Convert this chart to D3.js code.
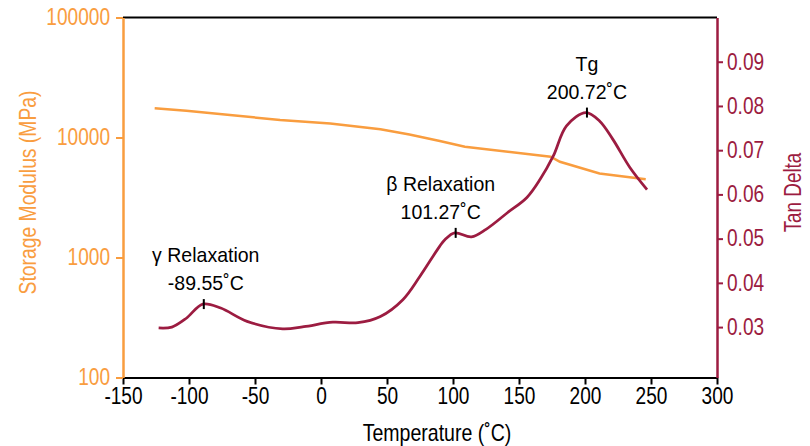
<!DOCTYPE html>
<html>
<head>
<meta charset="utf-8">
<script src="https://cdn.jsdelivr.net/npm/d3@7"></script>
<style>
  body { margin: 0; background: #fff; }
  svg text { font-family: "Liberation Sans", Arial, sans-serif; }
</style>
</head>
<body>
<svg id="chart" width="810" height="446"></svg>
<script>
// temperature ticks
var tempTicks = [-150, -100, -50, 0, 50, 100, 150, 200, 250, 300];
var modulusTicks = [100, 1000, 10000, 100000];
var tanTicks = [0.03, 0.04, 0.05, 0.06, 0.07, 0.08, 0.09];

// storage modulus (MPa) vs temperature
var modTemp = [-126, -102, -69, -31, 7, 45, 67, 90, 109, 174, 181, 211, 246];
var modValue = [17500, 16700, 15400, 14000, 13100, 11700, 10600, 9350, 8380, 6920, 6280, 5010, 4490];

// tan delta vs temperature
var tanTemp = [-123, -113, -102, -89.55, -76, -56, -29, -13, 9, 28, 45, 62, 75, 90, 94, 101.27, 114, 125, 141, 156, 166, 176, 186, 200.72, 211, 221, 234, 247];
var tanValue = [0.0298, 0.0300, 0.0320, 0.0352, 0.0343, 0.0313, 0.0296, 0.0301, 0.0311, 0.0310, 0.0324, 0.0362, 0.0415, 0.0483, 0.0498, 0.0513, 0.0504, 0.0521, 0.0558, 0.0593, 0.0634, 0.0687, 0.0755, 0.0785, 0.0766, 0.0725, 0.0661, 0.0611];

// annotated peaks
var peakTemp = [-89.55, 101.27, 200.72];
var peakLine1 = ["γ Relaxation", "β Relaxation", "Tg"];
var peakLine2 = ["-89.55˚C", "101.27˚C", "200.72˚C"];
var labelDx = [3, -14, 1]; // labels are not all centred on their peak

var orange = "#F99D3F", crimson = "#9C1C41";

var svg = d3.select("#chart"),
  margin = {top: 17.5, right: 93, bottom: 68.5, left: 123},
  width = 810 - margin.left - margin.right,
  height = 446 - margin.top - margin.bottom;

var g = svg.append("g")
  .attr("transform", "translate(" + margin.left + "," + margin.top + ")");

var x = d3.scaleLinear().domain([-150, 300]).range([0, width]);
var yMod = d3.scaleLog().domain([100, 100000]).range([height, 0]);
var yTan = d3.scaleLinear().domain([0.0186, 0.1]).range([height, 0]);

// squeeze text horizontally (no condensed face installed), keeping its anchor
function narrow(sel, k) {
  sel.each(function() {
    var t = d3.select(this);
    var xv = +t.attr("x") || 0;
    var tr = t.attr("transform") || "";
    t.attr("x", xv / k).attr("transform", tr + " scale(" + k + ",1)");
  });
}

// top border
g.append("line")
  .attr("x1", 0).attr("x2", width).attr("y1", 0).attr("y2", 0)
  .attr("stroke", "#000").attr("stroke-width", 2);

// x axis
var xAxis = g.append("g")
  .attr("transform", "translate(0," + height + ")")
  .call(d3.axisBottom(x).tickValues(tempTicks).tickFormat(function(d) { return String(d); })
    .tickSize(7).tickSizeOuter(0).tickPadding(3));
xAxis.select(".domain").attr("stroke", "#000").attr("stroke-width", 2);
xAxis.selectAll(".tick line").attr("stroke", "#000").attr("stroke-width", 2);
xAxis.selectAll("text").attr("font-size", 23).attr("fill", "#000").call(narrow, 0.83);

// left axis
var lAxis = g.append("g")
  .call(d3.axisLeft(yMod).tickValues(modulusTicks).tickFormat(function(d) { return String(d); })
    .tickSize(7).tickSizeOuter(0).tickPadding(6));
lAxis.select(".domain").attr("stroke", orange).attr("stroke-width", 2.5);
lAxis.selectAll(".tick line").attr("stroke", orange).attr("stroke-width", 2);
lAxis.selectAll("text").attr("font-size", 23).attr("fill", orange).call(narrow, 0.83);

// right axis
var rAxis = g.append("g")
  .attr("transform", "translate(" + width + ",0)")
  .call(d3.axisRight(yTan).tickValues(tanTicks).tickFormat(d3.format(".2f"))
    .tickSize(6).tickSizeOuter(0).tickPadding(4));
rAxis.select(".domain").attr("stroke", crimson).attr("stroke-width", 2.5);
rAxis.selectAll(".tick line").attr("stroke", crimson).attr("stroke-width", 2);
rAxis.selectAll("text").attr("font-size", 23).attr("fill", crimson).call(narrow, 0.83);

// axis titles
g.append("text")
  .attr("x", 314).attr("y", height + 64)
  .attr("text-anchor", "middle").attr("font-size", 23).attr("fill", "#000")
  .text("Temperature (˚C)")
  .call(narrow, 0.85);

g.append("text")
  .attr("transform", "translate(" + (-95) + "," + (height / 2 - 5) + ") rotate(-90)")
  .attr("text-anchor", "middle").attr("dy", "0.35em").attr("font-size", 23).attr("fill", orange)
  .text("Storage Modulus (MPa)")
  .call(narrow, 0.84);

g.append("text")
  .attr("transform", "translate(" + (width + 76) + "," + (height / 2 - 5) + ") rotate(-90)")
  .attr("text-anchor", "middle").attr("dy", "0.35em").attr("font-size", 23).attr("fill", crimson)
  .text("Tan Delta")
  .call(narrow, 0.82);

// storage modulus line
var modLine = d3.line()
  .x(function(d, i) { return x(modTemp[i]); })
  .y(function(d) { return yMod(d); });

g.append("path")
  .datum(modValue)
  .attr("fill", "none").attr("stroke", orange).attr("stroke-width", 2.5)
  .attr("d", modLine);

// tan delta line
var tanLine = d3.line()
  .curve(d3.curveCatmullRom.alpha(0.5))
  .x(function(d, i) { return x(tanTemp[i]); })
  .y(function(d) { return yTan(d); });

g.append("path")
  .datum(tanValue)
  .attr("fill", "none").attr("stroke", crimson).attr("stroke-width", 2.75)
  .attr("d", tanLine);

// peak markers and labels
peakTemp.forEach(function(t, k) {
  var i = tanTemp.indexOf(t);
  var px = x(t), py = yTan(tanValue[i]);
  g.append("line")
    .attr("x1", px + 1).attr("x2", px + 1).attr("y1", py - 5).attr("y2", py + 5)
    .attr("stroke", "#000").attr("stroke-width", 2);
  g.append("text")
    .attr("x", px + labelDx[k]).attr("y", py - 42)
    .attr("text-anchor", "middle").attr("font-size", 21).attr("fill", "#000")
    .text(peakLine1[k])
    .call(narrow, 0.93);
  g.append("text")
    .attr("x", px + labelDx[k]).attr("y", py - 14)
    .attr("text-anchor", "middle").attr("font-size", 21).attr("fill", "#000")
    .text(peakLine2[k])
    .call(narrow, 0.93);
});
</script>
</body>
</html>
